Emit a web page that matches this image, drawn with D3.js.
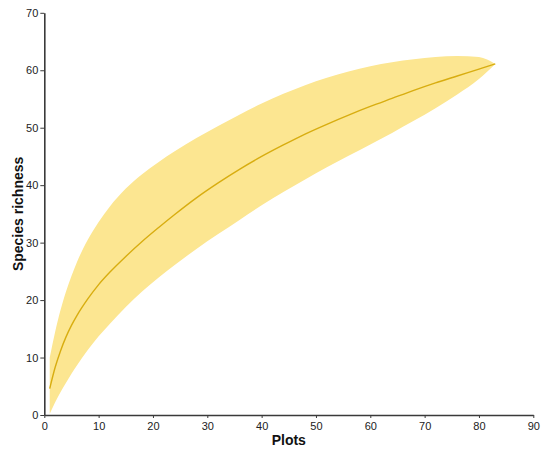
<!DOCTYPE html>
<html>
<head>
<meta charset="utf-8">
<script src="https://cdn.jsdelivr.net/npm/d3@7/dist/d3.min.js"></script>
<style>
html,body{margin:0;padding:0;background:#fff;}
svg{display:block;}
</style>
</head>
<body>
<script>
// Sample points (number of plots)
const plots = [1,2,3,4,5,6,8,10,12,15,18,21,24,28,32,36,40,44,48,52,56,60,64,68,72,76,80,83];
// Mean rarefied species richness
const richness = [4.6,8.3,11.2,13.6,15.6,17.3,20.2,22.7,24.8,27.6,30.2,32.6,34.9,37.8,40.4,42.8,45.0,47.0,48.9,50.6,52.2,53.7,55.1,56.5,57.8,59.0,60.2,61.1];
// 95% confidence limits
const upperCI = [10.0,14.5,18.3,21.5,24.2,26.6,30.5,33.6,36.2,39.4,41.9,44.0,45.9,48.2,50.3,52.3,54.2,55.9,57.4,58.7,59.8,60.7,61.4,61.9,62.3,62.5,62.3,61.1];
const lowerCI = [0.2,2.2,4.0,5.6,7.2,8.6,11.3,13.7,15.8,18.8,21.5,23.9,26.1,28.9,31.5,34.0,36.5,38.8,41.0,43.1,45.1,47.1,49.1,51.2,53.4,55.8,58.5,61.1];
const xTicks = [0,10,20,30,40,50,60,70,80,90];
const yTicks = [0,10,20,30,40,50,60,70];

const W = 550, H = 453;
const m = {left:44.3, right:16.7, top:12.8, bottom:38};
const svg = d3.select("body").append("svg").attr("width",W).attr("height",H);

const x = d3.scaleLinear().domain([0,90]).range([m.left, W-m.right]);
const y = d3.scaleLinear().domain([0,70]).range([H-m.bottom, m.top]);

const data = plots.map((p,i)=>({p, m:richness[i], lo:lowerCI[i], hi:upperCI[i]}));

svg.append("path")
  .datum(data)
  .attr("fill","#fce691")
  .attr("d", d3.area().x(d=>x(d.p)).y0(d=>y(d.lo)).y1(d=>y(d.hi)).curve(d3.curveMonotoneX));

svg.append("path")
  .datum(data)
  .attr("fill","none")
  .attr("stroke","#d8ad10")
  .attr("stroke-width",1.4)
  .attr("d", d3.line().x(d=>x(d.p)).y(d=>y(d.m)).curve(d3.curveMonotoneX));

const gx = svg.append("g").attr("transform",`translate(0,${H-m.bottom})`)
  .call(d3.axisBottom(x).tickValues(xTicks).tickSize(3).tickSizeOuter(0).tickFormat(d3.format("d")));
const gy = svg.append("g").attr("transform",`translate(${m.left},0)`)
  .call(d3.axisLeft(y).tickValues(yTicks).tickSize(4).tickSizeOuter(0).tickFormat(d3.format("d")));

[gx,gy].forEach(g=>{
  g.select(".domain").attr("stroke","#3a3a3a").attr("stroke-width",1.6);
  g.selectAll(".tick line").attr("stroke","#3a3a3a").attr("stroke-width",1);
  g.selectAll(".tick text").attr("fill","#222").style("font-family","Liberation Sans, Arial, sans-serif").style("font-size","11px");
});
gx.selectAll(".tick text").attr("dy","0.85em");
gy.selectAll(".tick text").attr("x",-6);

svg.append("text")
  .attr("x",(m.left+W-m.right)/2).attr("y",445)
  .attr("text-anchor","middle")
  .style("font-family","Liberation Sans, Arial, sans-serif")
  .style("font-weight","bold").style("font-size","14px").attr("fill","#111")
  .text("Plots");

svg.append("text")
  .attr("transform",`translate(23,${(m.top+H-m.bottom)/2}) rotate(-90)`)
  .attr("text-anchor","middle")
  .style("font-family","Liberation Sans, Arial, sans-serif")
  .style("font-weight","bold").style("font-size","14px").attr("fill","#111")
  .text("Species richness");
</script>
</body>
</html>
